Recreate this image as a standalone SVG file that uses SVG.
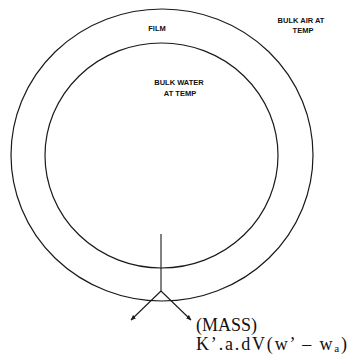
<svg xmlns="http://www.w3.org/2000/svg" width="350" height="355" viewBox="0 0 350 355">
<style>
.ring{fill:none;stroke:#1a1a1a;stroke-width:1.2}
.conn{fill:none;stroke:#1a1a1a;stroke-width:1.1}
.lbl{font-family:"Liberation Sans",Arial,sans-serif;font-size:7.5px;fill:#111;text-anchor:middle;font-weight:bold}
.eq{font-family:"Liberation Serif","Times New Roman",serif;font-size:18px;fill:#111}
</style>
<defs>
<marker id="ah" viewBox="0 0 10 10" refX="9" refY="5" markerWidth="5" markerHeight="5" orient="auto">
<path d="M0,1 L10,5 L0,9 z" fill="#1a1a1a"/>
</marker>
</defs>
<rect width="350" height="355" fill="#fff"/>
<g id="outer">
<ellipse class="ring" cx="162" cy="155" rx="151" ry="146"/>
</g>
<g id="inner">
<ellipse class="ring" cx="161.5" cy="155.5" rx="116.5" ry="112.5"/>
</g>
<g id="labels">
<text class="lbl" x="157" y="31">FILM</text>
<text class="lbl" x="301" y="22.5">BULK AIR AT</text>
<text class="lbl" x="303" y="33">TEMP</text>
<text class="lbl" x="179" y="85">BULK WATER</text>
<text class="lbl" x="180" y="96">AT TEMP</text>
</g>
<g id="connectors">
<path class="conn" d="M161,234 L161,291"/>
<path class="conn" d="M161,291 L131,320" marker-end="url(#ah)"/>
<path class="conn" d="M161,291 L191,320" marker-end="url(#ah)"/>
</g>
<g id="mass">
<text class="eq" x="196" y="331">(MASS)</text>
<text class="eq" x="196" y="350" textLength="151" lengthAdjust="spacing">K’.a.dV(w’ – w<tspan font-size="11" dy="2">a</tspan><tspan dy="-2">)</tspan></text>
</g>
</svg>
